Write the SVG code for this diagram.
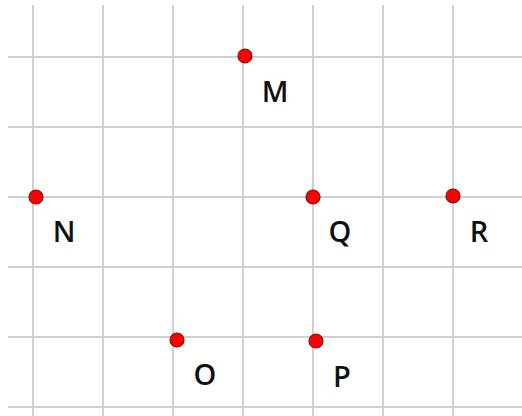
<svg xmlns="http://www.w3.org/2000/svg" width="522" height="416" viewBox="0 0 522 416">
<style>
.grid line{stroke:#d0d0d0;stroke-width:2}
.pt{fill:#ff0000;stroke:#7a1010;stroke-width:1.2}
.lbl{font-family:"Open Sans","Liberation Sans",sans-serif;font-weight:600;font-size:29px;fill:#111;text-anchor:middle}
</style>
<rect width="522" height="416" fill="#fff"/>
<g id="grid" class="grid">
<line x1="33" y1="5" x2="33" y2="416"/>
<line x1="103" y1="5" x2="103" y2="416"/>
<line x1="173" y1="5" x2="173" y2="416"/>
<line x1="243" y1="5" x2="243" y2="416"/>
<line x1="313" y1="5" x2="313" y2="416"/>
<line x1="383" y1="5" x2="383" y2="416"/>
<line x1="453" y1="5" x2="453" y2="416"/>
<line x1="8" y1="57" x2="522" y2="57"/>
<line x1="8" y1="127" x2="522" y2="127"/>
<line x1="8" y1="197" x2="522" y2="197"/>
<line x1="8" y1="267" x2="522" y2="267"/>
<line x1="8" y1="337" x2="522" y2="337"/>
<line x1="8" y1="407" x2="522" y2="407"/>
</g>
<g id="connectors"></g>
<g id="M"><circle class="pt" cx="245" cy="56" r="7"/><text class="lbl" x="275" y="102">M</text></g>
<g id="N"><circle class="pt" cx="36" cy="197" r="7"/><text class="lbl" x="64" y="242">N</text></g>
<g id="Q"><circle class="pt" cx="313" cy="197" r="7"/><text class="lbl" x="340" y="242">Q</text></g>
<g id="R"><circle class="pt" cx="453" cy="196" r="7"/><text class="lbl" x="479" y="242">R</text></g>
<g id="O"><circle class="pt" cx="177" cy="340" r="7"/><text class="lbl" x="205" y="385">O</text></g>
<g id="P"><circle class="pt" cx="316" cy="341" r="7"/><text class="lbl" x="342" y="387">P</text></g>
</svg>
